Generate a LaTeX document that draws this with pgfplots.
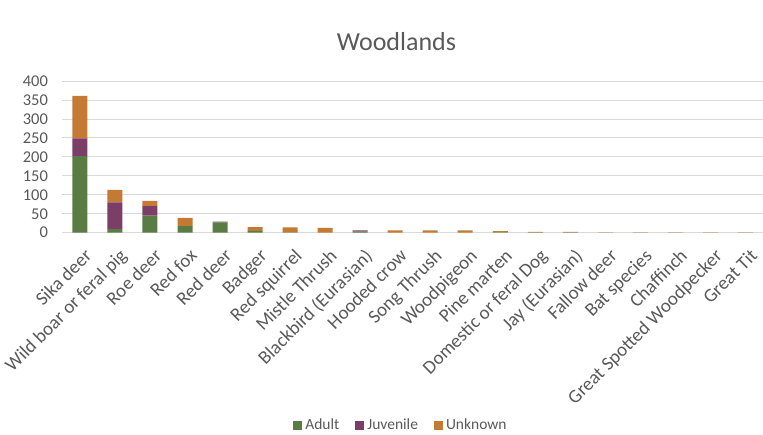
\documentclass[border=0pt]{standalone}
\usepackage{pgfplots}
\usepackage{pgfplotstable}
\pgfplotsset{compat=1.18}
\usepackage{fontspec}
\setmainfont{Carlito}

\definecolor{adultc}{RGB}{88,124,68}
\definecolor{juvc}{RGB}{124,62,102}
\definecolor{unkc}{RGB}{196,122,50}
\definecolor{txt}{RGB}{89,89,89}
\definecolor{gridc}{RGB}{217,217,217}

% Records per species, split by age class
\pgfplotstableread{
idx adult juvenile unknown
0   202   47   112
1   10    70   33
2   45    25   14
3   17    0    22
4   27    2    0
5   5     0    10
6   1     0    13
7   0     0    13
8   3     3    0
9   0     0    6
10  0     0    6
11  0     0    6
12  1     0    3
13  1     0    1
14  1     0    1
15  0     0    1
16  0     0    1
17  0     0    1
18  0     0    1
19  0     0    1
}\woodlands

\begin{document}
\begin{tikzpicture}
\path[use as bounding box] (0pt,0pt) rectangle (763pt,435pt);
\node[text=txt, font=\fontsize{26}{30}\selectfont] at (396.5pt,393pt) {Woodlands};
\begin{axis}[
  at={(62.4pt,202.3pt)}, anchor=south west, scale only axis,
  width=700.6pt, height=151.7pt,
  ybar stacked, bar width=15pt,
  xmin=-0.5, xmax=19.5, ymin=0, ymax=400,
  xtick={0,...,19},
  xticklabels={Sika deer,Wild boar or feral pig,Roe deer,Red fox,Red deer,Badger,Red squirrel,Mistle Thrush,Blackbird (Eurasian),Hooded crow,Song Thrush,Woodpigeon,Pine marten,Domestic or feral Dog,Jay (Eurasian),Fallow deer,Bat species,Chaffinch,Great Spotted Woodpecker,Great Tit},
  ytick={0,50,...,400},
  ymajorgrids, grid style={gridc, line width=0.8pt},
  axis x line*=bottom, axis y line*=left,
  x axis line style={gridc, line width=0.8pt},
  y axis line style={draw=none},
  major tick length=0pt,
  tick label style={text=txt},
  /pgf/number format/assume math mode=true,
  yticklabel style={font=\fontsize{16.5}{18}\selectfont, xshift=-11pt},
  xticklabel style={font=\fontsize{19}{21}\selectfont, rotate=45, anchor=north east, inner sep=0pt, xshift=-8pt, yshift=-13pt},
  legend style={at={(0.4833,-1.268)}, anchor=center, draw=none, fill=none,
    legend columns=3, font=\fontsize{15.5}{17}\selectfont, text=txt,
    /tikz/every odd column/.append style={column sep=1pt},
    /tikz/every even column/.append style={column sep=14pt}},
  legend image code/.code={\fill[#1] (0pt,-4.5pt) rectangle (9pt,4.5pt);},
]
\addplot[fill=adultc, draw=none] table[x=idx, y=adult] {\woodlands};
\addplot[fill=juvc, draw=none] table[x=idx, y=juvenile] {\woodlands};
\addplot[fill=unkc, draw=none] table[x=idx, y=unknown] {\woodlands};
\legend{Adult,Juvenile,Unknown}
\end{axis}
\end{tikzpicture}
\end{document}
